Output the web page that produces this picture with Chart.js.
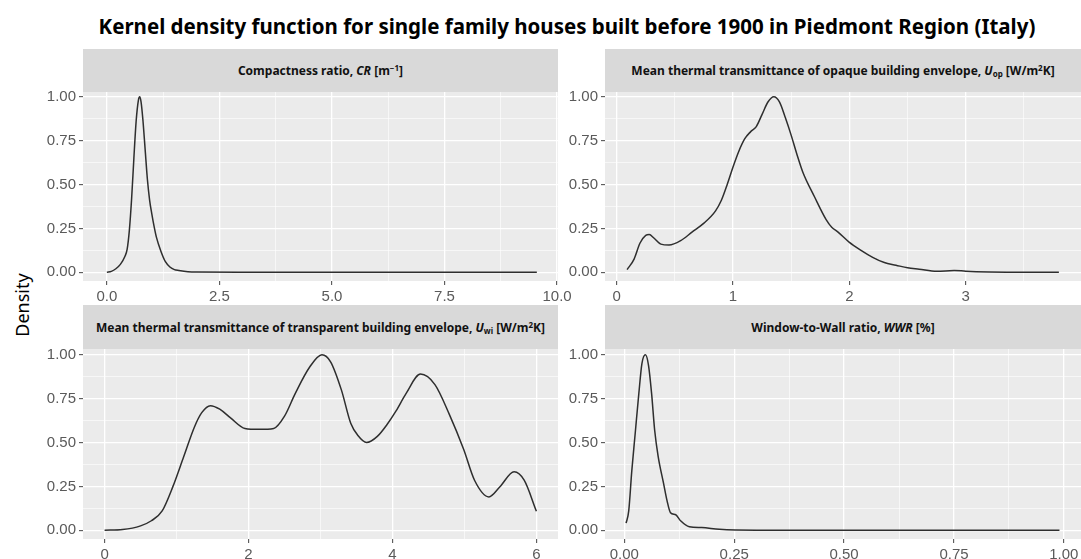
<!DOCTYPE html>
<html>
<head>
<meta charset="utf-8">
<script src="https://cdn.jsdelivr.net/npm/chart.js@4.4.1/dist/chart.umd.min.js"></script>
<style>
  html, body { margin: 0; padding: 0; background: #fff; overflow: hidden; }
  #page { position: relative; width: 1081px; height: 559px; }
  .title {
    position: absolute; left: 0; width: 1134px; top: 12px; text-align: center;
    font: bold 20.5px "Noto Sans", sans-serif; color: #000; white-space: nowrap;
  }
  .ylab {
    position: absolute; left: 22px; top: 305px; transform: translate(-50%, -50%) rotate(-90deg);
    font: 18px "Noto Sans", sans-serif; color: #000; white-space: nowrap;
  }
  .strip {
    position: absolute; background: #d9d9d9; display: flex; align-items: center; justify-content: center;
    font: bold 12px "Noto Sans", sans-serif; color: #111; white-space: nowrap; z-index: 2;
  }
  .strip sub, .strip sup { font-size: 8px; line-height: 0; }
  .strip sub { vertical-align: -2px; }
  .strip sup { vertical-align: 4px; }
  canvas { position: absolute; }
</style>
</head>
<body>
<div id="page">
  <div class="title">Kernel density function for single family houses built before 1900 in Piedmont Region (Italy)</div>
  <div class="ylab">Density</div>
  <div class="strip" style="left:83px;top:49px;width:475px;height:43px"><span>Compactness ratio, <i>CR</i> [m<sup>−1</sup>]</span></div>
  <div class="strip" style="left:605px;top:49px;width:476px;height:43px"><span>Mean thermal transmittance of opaque building envelope, <i>U</i><sub>op</sub> [W/m<sup>2</sup>K]</span></div>
  <div class="strip" style="left:83px;top:305px;width:475px;height:44px"><span>Mean thermal transmittance of transparent building envelope, <i>U</i><sub>wi</sub> [W/m<sup>2</sup>K]</span></div>
  <div class="strip" style="left:605px;top:305px;width:476px;height:44px"><span>Window-to-Wall ratio, <i>WWR</i> [%]</span></div>
  <canvas id="cr"></canvas>
  <canvas id="uop"></canvas>
  <canvas id="uwi"></canvas>
  <canvas id="wwr"></canvas>
</div>
<script>
// density curves
const crX = [0, 0.1, 0.2, 0.3, 0.4, 0.45, 0.5, 0.55, 0.6, 0.65, 0.7, 0.73, 0.76, 0.8, 0.85, 0.9, 0.95, 1.0, 1.05, 1.1, 1.2, 1.3, 1.4, 1.5, 1.6, 1.8, 2.0, 3, 4, 5, 6, 7, 8, 9, 9.55];
const crY = [0, 0.005, 0.02, 0.045, 0.09, 0.13, 0.24, 0.42, 0.65, 0.86, 0.98, 1.0, 0.97, 0.87, 0.7, 0.53, 0.41, 0.33, 0.26, 0.2, 0.12, 0.06, 0.03, 0.015, 0.01, 0.003, 0.001, 0, 0, 0, 0, 0, 0, 0, 0];

const uopX = [0.09, 0.15, 0.2, 0.25, 0.28, 0.32, 0.38, 0.45, 0.55, 0.65, 0.75, 0.85, 0.9, 0.95, 1.0, 1.05, 1.1, 1.15, 1.2, 1.25, 1.3, 1.35, 1.4, 1.45, 1.5, 1.55, 1.6, 1.7, 1.8, 1.85, 1.9, 2.0, 2.1, 2.2, 2.3, 2.4, 2.5, 2.6, 2.75, 2.9, 3.0, 3.2, 3.5, 3.8];
const uopY = [0.015, 0.075, 0.165, 0.21, 0.215, 0.195, 0.16, 0.155, 0.18, 0.23, 0.28, 0.35, 0.41, 0.5, 0.6, 0.69, 0.76, 0.8, 0.83, 0.9, 0.97, 1.0, 0.97, 0.88, 0.78, 0.67, 0.57, 0.43, 0.3, 0.255, 0.23, 0.17, 0.125, 0.085, 0.055, 0.04, 0.025, 0.017, 0.005, 0.01, 0.006, 0.002, 0, 0];

const uwiX = [0, 0.25, 0.5, 0.65, 0.8, 0.95, 1.1, 1.25, 1.35, 1.47, 1.6, 1.75, 1.95, 2.15, 2.35, 2.5, 2.65, 2.85, 3.02, 3.14, 3.29, 3.42, 3.52, 3.64, 3.79, 3.92, 4.05, 4.19, 4.39, 4.59, 4.79, 4.99, 5.14, 5.34, 5.49, 5.69, 5.83, 6.0];
const uwiY = [0, 0.004, 0.025, 0.054, 0.11, 0.25, 0.42, 0.59, 0.67, 0.71, 0.69, 0.64, 0.58, 0.575, 0.58, 0.65, 0.78, 0.93, 1.0, 0.96, 0.8, 0.61, 0.54, 0.5, 0.535, 0.6, 0.68, 0.78, 0.89, 0.83, 0.66, 0.46, 0.285, 0.19, 0.246, 0.333, 0.285, 0.108];

const wwrX = [0.004, 0.01, 0.017, 0.025, 0.033, 0.04, 0.048, 0.055, 0.062, 0.069, 0.077, 0.089, 0.097, 0.105, 0.117, 0.128, 0.148, 0.176, 0.216, 0.3, 0.5, 0.75, 0.99];
const wwrY = [0.04, 0.11, 0.34, 0.56, 0.78, 0.95, 1.0, 0.94, 0.78, 0.57, 0.42, 0.27, 0.17, 0.1, 0.088, 0.054, 0.02, 0.015, 0.005, 0, 0, 0, 0];

// axis ticks
const yMajor = [0, 0.25, 0.5, 0.75, 1];
const yMinor = [0.125, 0.375, 0.625, 0.875];
const yLabels = ["0.00", "0.25", "0.50", "0.75", "1.00"];

const crMajor = [0, 2.5, 5, 7.5, 10];
const crMinor = [1.25, 3.75, 6.25, 8.75];
const crLabels = ["0.0", "2.5", "5.0", "7.5", "10.0"];

const uopMajor = [0, 1, 2, 3];
const uopMinor = [0.5, 1.5, 2.5, 3.5];
const uopLabels = ["0", "1", "2", "3"];

const uwiMajor = [0, 2, 4, 6];
const uwiMinor = [1, 3, 5];
const uwiLabels = ["0", "2", "4", "6"];

const wwrMajor = [0, 0.25, 0.5, 0.75, 1];
const wwrMinor = [0.125, 0.375, 0.625, 0.875];
const wwrLabels = ["0.00", "0.25", "0.50", "0.75", "1.00"];

const Y_AXIS_W = 53, X_AXIS_H = 26, TOP_PAD = 12;

// grey panel background like ggplot
const panelBg = {
  id: "panelBg",
  beforeDraw(chart) {
    const a = chart.chartArea, ctx = chart.ctx;
    ctx.save();
    ctx.fillStyle = "#ebebeb";
    ctx.fillRect(a.left, a.top, a.right - a.left, a.bottom - a.top);
    ctx.restore();
  }
};

function axis(min, max, major, minor, labels, isX) {
  return {
    type: "linear",
    min: min,
    max: max,
    border: { display: false },
    afterBuildTicks: (ax) => {
      ax.ticks = major.concat(minor).sort((a, b) => a - b).map((v) => ({ value: v }));
    },
    afterFit: (ax) => {
      if (isX) { ax.height = X_AXIS_H; ax.paddingLeft = 0; ax.paddingRight = 0; }
      else { ax.width = Y_AXIS_W; ax.paddingTop = 0; ax.paddingBottom = 0; }
    },
    grid: {
      color: "#ffffff",
      lineWidth: (c) => (major.includes(c.tick.value) ? 1.3 : 0.6),
      tickColor: (c) => (major.includes(c.tick.value) ? "#444" : "rgba(0,0,0,0)"),
      tickWidth: 1,
      tickLength: 4,
    },
    ticks: {
      autoSkip: false,
      maxRotation: 0,
      padding: 3,
      color: "#5a5a5a",
      font: { family: "Liberation Sans", size: 15 },
      callback: (v) => {
        const i = major.indexOf(v);
        return i >= 0 ? labels[i] : "";
      },
    },
  };
}

function panel(id, left, top, w, h, padRight, xs, ys, xAxis) {
  const canvas = document.getElementById(id);
  canvas.width = Y_AXIS_W + w + padRight;
  canvas.height = TOP_PAD + h + X_AXIS_H;
  canvas.style.left = (left - Y_AXIS_W) + "px";
  canvas.style.top = (top - TOP_PAD) + "px";
  new Chart(canvas.getContext("2d"), {
    type: "line",
    data: {
      datasets: [{
        data: xs.map((x, i) => ({ x: x, y: ys[i] })),
        borderColor: "#2e2e2e",
        borderWidth: 1.5,
        pointRadius: 0,
        cubicInterpolationMode: "monotone",
        fill: false,
      }],
    },
    options: {
      responsive: false,
      animation: false,
      layout: { padding: { top: TOP_PAD, right: padRight, left: 0, bottom: 0 } },
      plugins: { legend: { display: false }, tooltip: { enabled: false } },
      scales: {
        x: xAxis,
        y: axis(-0.05, 1.05, yMajor, yMinor, yLabels, false),
      },
    },
    plugins: [panelBg],
  });
}

panel("cr", 83, 88, 475, 193, 22, crX, crY, axis(-0.53, 10.02, crMajor, crMinor, crLabels, true));
panel("uop", 605, 88, 476, 193, 0, uopX, uopY, axis(-0.10, 3.99, uopMajor, uopMinor, uopLabels, true));
panel("uwi", 83, 346, 475, 193, 22, uwiX, uwiY, axis(-0.3, 6.3, uwiMajor, uwiMinor, uwiLabels, true));
panel("wwr", 605, 346, 476, 193, 0, wwrX, wwrY, axis(-0.044, 1.039, wwrMajor, wwrMinor, wwrLabels, true));
</script>
</body>
</html>
